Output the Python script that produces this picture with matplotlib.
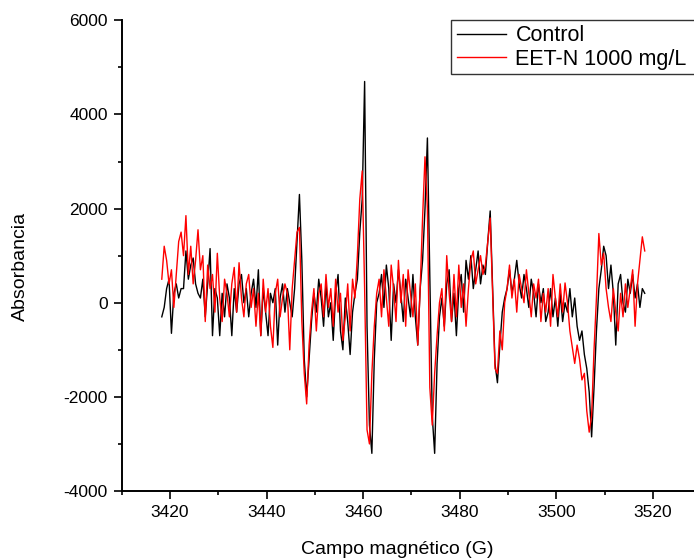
import numpy as np
import matplotlib
matplotlib.use("Agg")
import matplotlib.pyplot as plt
from matplotlib.ticker import MultipleLocator
from matplotlib.patches import Rectangle

plt.rcParams['font.family'] = ['Liberation Sans', 'DejaVu Sans']
plt.rcParams['axes.unicode_minus'] = False

# Magnetic field grid (G): 201 samples, 0.5 G apart
field_start = 3418.3
field_end = 3518.3
n_points = 201

control = [
    -300, -100, 300, 500, -650, 200, 400, 100, 300, 300,
    1100, 500, 800, 950, 400, 200, 100, 500, -300, 400,
    1150, -700, 300, 100, -700, 200, -300, 400, 100, -700,
    300, -200, 400, 600, 0, 300, -300, 200, 500, -100,
    700, -700, 300, -200, -700, 200, 0, 300, -900, 100,
    400, -200, 300, 0, -300, 300, 1300, 2300, 900, -1200,
    -2000, -1200, -400, 200,
    -200, 500, 100, -500, 400, -300, 0, -800, 200, 600,
    -600, -1000, 100, -400, -1100, -200, 200,
    500, 1500, 2200, 4700, -500, -2600, -3200, -1200, 0,
    200, 600, -100, 800, 300, -800, 400, 0, 700, 200,
    -400, 500, 100, -300, 600,
    -300, -900, 300, 900, 2000, 3500, 500, -2400, -3200, -1300, -300,
    100, -500, 400, 700, -400, 200, -700, 300, 600, -200,
    900, 500, 1000, 300, 700, 1100, 400, 800,
    600, 1300, 1950, 300, -1300, -1700, -900, -200,
    100, 300, 700, 200, 500, 900, 400, 100, 600, 300,
    -100, 500, 200, -300, 400, 0, 300, -400,
    -200, 300, -300, 100, -500, 200, -400, 0, -200, 300,
    -300, 100, -500, -800, -600, -1100, -1400, -1900, -2850, -1800,
    -600, 300, 700, 1200, 1000, 300, 800, 200, -900, 400,
    600, 0, -200, 500, 200, 600, 100, 400, -100, 300, 200,
]

eet_n = [
    500, 1200, 900, 400, 700, -100, 600, 1300, 1500, 1000,
    1850, 600, 1200, 400, 900, 1550, 700, 1000, -400, 800,
    300, 600, -200, 1050, 100, -400, 500, 200, -300, 400,
    750, -200, 850, 100, -300, 400, 600, -100, 300, -500,
    200, -700, 500, -200, 300, -500, -950, 200, 500, -300,
    100, 400, 200, -1000, 300, 900, 1500, 1600, -400, -1500,
    -2150, -900, -200, 300,
    -600, 200, 400, -300, 600, -100, 300, -500, 500, -200,
    200, -800, -300, 400, -600, 500, 100,
    1000, 2200, 2800, 300, -2700, -3000, -1500, -500, 200,
    500, -300, 700, 100, -500, 800, 300, -400, 900, 0,
    600, -500, 700, 200,
    -300, 400, -900, 300, 1800, 3100, 2000, -1800, -2600, -1500, -700, 0,
    300, -600, 1000, 200, -400, 600, -300, 800, -100, 400,
    -500, 300, 900, 1100, 400, 700, 1000, 600,
    800, 1300, 1800, 200, -1400, -1500, -600, -1000,
    0, 300, 800, 100, 500, -200, 600, 300, 0, 700,
    200, -300, 400, 100, 500, -400, 200, -200,
    300, -500, 600, 100, -300, 400, -200, 420, 0, -600,
    -940, -1290, -900, -1200, -1640, -1500, -2300, -2750, -2400, -1000,
    100, 1470, 800, 1050, 300, -100, -400, 300, -200, -600,
    200, -300, 400, -100, 300, 700, -500, 400, 900, 1400, 1100,
]

labels = ["Control", "EET-N 1000 mg/L"]
colors = ["#000000", "#ff0000"]

x_ticks = [3420, 3440, 3460, 3480, 3500, 3520]
y_ticks = [-4000, -2000, 0, 2000, 4000, 6000]

field = np.linspace(field_start, field_end, n_points)

W, H = 694, 559
fig = plt.figure(figsize=(W / 100, H / 100), dpi=100)
ax = fig.add_axes([121.7 / W, 1 - 491 / H, (W - 121.7) / W, (491 - 20.3) / H])

ax.plot(field, control, color=colors[0], lw=1.0, label=labels[0])
ax.plot(field, eet_n, color=colors[1], lw=1.0, label=labels[1])

ax.set_xlim(3410, 3528.5)
ax.set_ylim(-4000, 6000)
ax.set_xticks(x_ticks)
ax.set_yticks(y_ticks)
ax.xaxis.set_minor_locator(MultipleLocator(10))
ax.yaxis.set_minor_locator(MultipleLocator(1000))

for s in ["top", "right"]:
    ax.spines[s].set_visible(False)
for s in ["left", "bottom"]:
    ax.spines[s].set_linewidth(1.4)

ax.tick_params(which="major", direction="out", length=6, width=1.2,
               labelsize=12.5, pad=4, colors="#000000")
ax.tick_params(which="minor", direction="out", length=3, width=1.2)

ax.set_xlabel("Campo magnético (G)", fontsize=14)
ax.set_ylabel("Absorbancia", fontsize=14)
ax.xaxis.set_label_coords(0.482, -0.106)
ax.yaxis.set_label_coords(-0.162, 0.478)

# Legend box (extends past the right edge as in the reference)
fig.patches.append(Rectangle((451 / W, 1 - 74 / H), 260 / W, 54 / H,
                             transform=fig.transFigure, fill=True,
                             facecolor="white", edgecolor="#333333",
                             linewidth=1.0, zorder=5))
leg = fig.legend(loc="upper left", bbox_to_anchor=(453 / W, 1 - 21 / H),
                 bbox_transform=fig.transFigure, fontsize=15.5,
                 frameon=False,
                 handlelength=2.25, handletextpad=0.45, borderpad=0.2,
                 labelspacing=0.12, borderaxespad=0)
leg.set_zorder(6)

fig.savefig("out.png", dpi=100)
